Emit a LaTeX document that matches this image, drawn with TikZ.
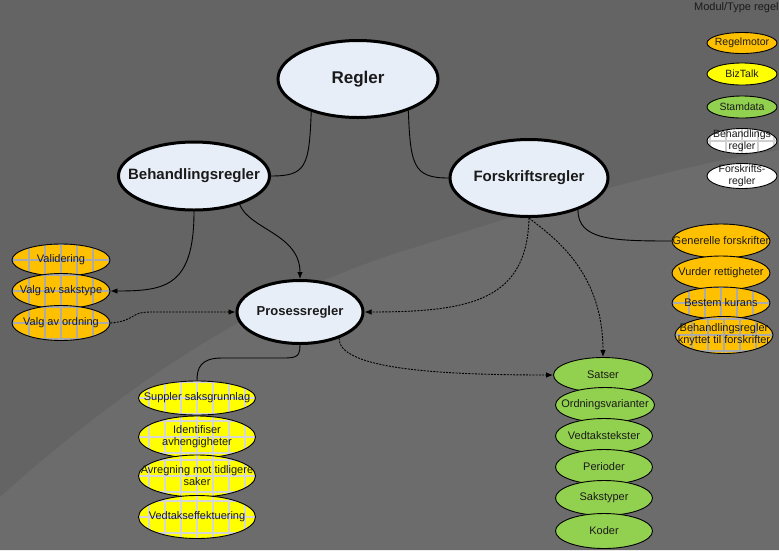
\documentclass[tikz,border=0pt]{standalone}
\usepackage{fontspec}
\setmainfont{Liberation Sans}
\usetikzlibrary{shapes.geometric,arrows.meta}
\definecolor{bgdark}{HTML}{646464}
\definecolor{bglight}{HTML}{6C6C6C}
\definecolor{mainfill}{HTML}{E8EEF8}
\definecolor{orng}{HTML}{FFC000}
\definecolor{yllw}{HTML}{FFFF00}
\definecolor{grn}{HTML}{92D050}
\definecolor{txtc}{HTML}{1A1A1A}
\definecolor{gridA}{HTML}{ABABAB}
\definecolor{gridB}{HTML}{D6D6D6}
\definecolor{gridC}{HTML}{CFCFCF}
\tikzset{
  mainell/.style={ellipse, draw=black, line width=3pt, fill=mainfill, inner sep=0pt},
  smell/.style={ellipse, draw=black, line width=0.9pt, inner sep=0pt, fill=#1},
  grd/.style={path picture={\draw[line width=1.5pt, draw=#1, step=16pt] (path picture bounding box.south west) grid (path picture bounding box.north east);}},
  txt/.style={align=center, text=txtc, inner sep=0pt, font=\fontsize{11}{12}\selectfont},
  lgtxt/.style={align=center, text=txtc, inner sep=0pt, font=\fontsize{10.5}{11.5}\selectfont},
  conn/.style={draw=black, line width=0.9pt},
  dsh/.style={draw=black, line width=0.9pt, dash pattern=on 2pt off 1.2pt},
  arr/.style={-{Latex[length=7pt,width=5.5pt]}}
}
\newcommand{\myell}[6]{%
  \node[#2, minimum width=#4pt, minimum height=#5pt] (#1) at (#3) {};
  \node[txt] (#1-t) at (#1.center) {#6};
}
\newcommand{\mylg}[6]{%
  \node[#2, minimum width=#4pt, minimum height=#5pt] (#1) at (#3) {};
  \node[lgtxt] (#1-t) at (#1.center) {#6};
}
\begin{document}
\begin{tikzpicture}[x=1pt,y=-1pt]
\fill[bgdark] (0,0) rectangle (779,550);
\fill[bglight] (0,497) .. controls (120,390) and (250,300) .. (400,252) .. controls (520,215) and (650,170) .. (779,150) -- (779,550) -- (0,550) -- cycle;
\useasboundingbox (0,0) rectangle (779,550);

% main nodes
\node[mainell, minimum width=160pt, minimum height=77pt] (reg) at (358,79) {};
\node[txt, font=\fontsize{17}{20}\selectfont\bfseries] (reg-t) at (reg.center) {Regler};
\node[mainell, minimum width=151pt, minimum height=68pt] (beh) at (194,176) {};
\node[txt, font=\fontsize{15}{18}\selectfont\bfseries] (beh-t) at (beh.center) {Behandlingsregler};
\node[mainell, minimum width=158pt, minimum height=77pt] (fors) at (529,178) {};
\node[txt, font=\fontsize{15}{18}\selectfont\bfseries] (fors-t) at (fors.center) {Forskriftsregler};
\node[mainell, minimum width=126pt, minimum height=63pt] (pr) at (300,312) {};
\node[txt, font=\fontsize{13}{16}\selectfont\bfseries] (pr-t) at (pr.center) {Prosessregler};

% left orange stack
\myell{val}{smell=orng, grd=gridA}{61,260}{98}{32}{Validering}
\myell{vs}{smell=orng, grd=gridA}{61,291}{98}{35}{Valg av sakstype}
\myell{vo}{smell=orng, grd=gridA}{61,323}{98}{35}{Valg av ordning}

% yellow stack
\myell{sup}{smell=yllw, grd=gridB}{197,398}{117}{34}{Suppler saksgrunnlag}
\myell{ide}{smell=yllw, grd=gridB}{197,437}{117}{42}{Identifiser\\avhengigheter}
\myell{avr}{smell=yllw, grd=gridB}{197,476}{117}{42}{Avregning mot tidligere\\saker}
\myell{ved}{smell=yllw, grd=gridB}{197,517}{117}{43}{Vedtakseffektuering}

% green stack
\myell{sat}{smell=grn}{603,375}{99}{35}{Satser}
\myell{ordv}{smell=grn}{605,405}{99}{35}{Ordningsvarianter}
\myell{vt}{smell=grn}{604,436}{97}{35}{Vedtakstekster}
\myell{per}{smell=grn}{604,467}{97}{35}{Perioder}
\myell{sak}{smell=grn}{604,498}{97}{35}{Sakstyper}
\myell{kod}{smell=grn}{604,531}{97}{35}{Koder}

% right orange stack
\myell{gf}{smell=orng}{721,241}{98}{34}{Generelle forskrifter}
\myell{vr}{smell=orng}{721,273}{98}{34}{Vurder rettigheter}
\myell{bk}{smell=orng, grd=gridA}{721,303}{98}{32}{Bestem kurans}
\myell{bkf}{smell=orng, grd=gridA}{724,335}{98}{37}{Behandlingsregler\\knyttet til forskrifter}

% legend
\node[lgtxt, font=\fontsize{11}{12}\selectfont, anchor=west] (title) at (694,8) {Modul/Type regel};
\mylg{lg1}{smell=orng}{742,43}{70}{21}{Regelmotor}
\mylg{lg2}{smell=yllw}{742,74}{70}{22}{BizTalk}
\mylg{lg3}{smell=grn}{742,107}{70}{22}{Stamdata}
\mylg{lg4}{smell=white, grd=gridC}{742,141}{70}{25}{Behandlings\\regler}
\mylg{lg5}{smell=white}{742,176}{70}{25}{Forskrifts-\\regler}

% connectors
\draw[conn] (reg.215) .. controls +(-2,55) and +(35,0) .. (beh.east);
\draw[conn] (reg.-32) .. controls +(2,55) and +(-35,0) .. (fors.west);
\draw[conn,arr] (beh.south) .. controls +(0,75) and +(55,0) .. (vs.east);
\draw[conn,arr] (beh.-32) .. controls +(10,25) and +(0,-45) .. (pr.north);
\draw[dsh,arr] (vo.east) .. controls +(25,-2) and +(-20,0) .. (150,312) -- (pr.west);
\draw[dsh,arr] (fors.south) .. controls +(-2,82) and +(107,0) .. (pr.east);
\draw[dsh,arr] (fors.south) .. controls +(21,17) and +(0,-88) .. (sat.north);
\draw[conn] (fors.-33) .. controls +(0,30) and +(-60,0) .. (gf.west);
\draw[conn] (pr.south) .. controls +(0,14) and +(20,0) .. (275,358) -- (222,358) .. controls +(-22,0) and +(0,-12) .. (sup.north);
\draw[dsh,arr] (pr.-34) .. controls +(0,30) and +(-120,0) .. (sat.west);
\end{tikzpicture}
\end{document}
